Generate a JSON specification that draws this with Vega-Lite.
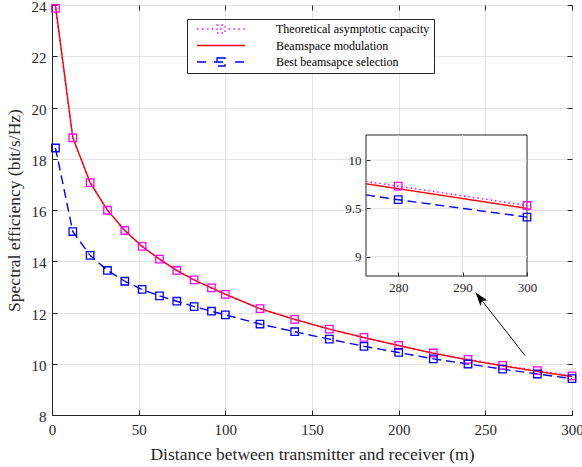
{
  "$schema": "https://vega.github.io/schema/vega-lite/v6.json",
  "width": 520,
  "height": 410,
  "autosize": "none",
  "padding": {"left": 52, "top": 5, "right": 10, "bottom": 52},
  "background": "white",
  "config": {
    "font": "Liberation Serif",
    "view": {"stroke": "#262626", "strokeWidth": 1},
    "axis": {
      "labelFont": "Liberation Serif",
      "titleFont": "Liberation Serif",
      "labelFontSize": 15,
      "titleFontSize": 17.5,
      "titleFontWeight": "normal",
      "labelColor": "#262626",
      "titleColor": "#262626",
      "domainColor": "#262626",
      "tickColor": "#262626",
      "gridColor": "#e3e3e3",
      "labelFlush": false,
      "labelOverlap": false,
      "tickSize": -5,
      "labelPadding": 12
    }
  },
  "datasets": {
    "main": [
      {"x": 2, "series": "Theoretical asymptotic capacity", "value": 23.87},
      {"x": 12, "series": "Theoretical asymptotic capacity", "value": 18.82},
      {"x": 22, "series": "Theoretical asymptotic capacity", "value": 17.07},
      {"x": 32, "series": "Theoretical asymptotic capacity", "value": 15.99},
      {"x": 42, "series": "Theoretical asymptotic capacity", "value": 15.2},
      {"x": 52, "series": "Theoretical asymptotic capacity", "value": 14.58},
      {"x": 62, "series": "Theoretical asymptotic capacity", "value": 14.08},
      {"x": 72, "series": "Theoretical asymptotic capacity", "value": 13.64},
      {"x": 82, "series": "Theoretical asymptotic capacity", "value": 13.27},
      {"x": 92, "series": "Theoretical asymptotic capacity", "value": 12.96},
      {"x": 100, "series": "Theoretical asymptotic capacity", "value": 12.71},
      {"x": 120, "series": "Theoretical asymptotic capacity", "value": 12.15},
      {"x": 140, "series": "Theoretical asymptotic capacity", "value": 11.73},
      {"x": 160, "series": "Theoretical asymptotic capacity", "value": 11.35},
      {"x": 180, "series": "Theoretical asymptotic capacity", "value": 11.03},
      {"x": 200, "series": "Theoretical asymptotic capacity", "value": 10.72},
      {"x": 220, "series": "Theoretical asymptotic capacity", "value": 10.42},
      {"x": 240, "series": "Theoretical asymptotic capacity", "value": 10.17},
      {"x": 260, "series": "Theoretical asymptotic capacity", "value": 9.94},
      {"x": 280, "series": "Theoretical asymptotic capacity", "value": 9.73},
      {"x": 300, "series": "Theoretical asymptotic capacity", "value": 9.53},
      {"x": 2, "series": "Beamspace modulation", "value": 24.0},
      {"x": 12, "series": "Beamspace modulation", "value": 18.82},
      {"x": 22, "series": "Beamspace modulation", "value": 17.07},
      {"x": 32, "series": "Beamspace modulation", "value": 15.99},
      {"x": 42, "series": "Beamspace modulation", "value": 15.2},
      {"x": 52, "series": "Beamspace modulation", "value": 14.58},
      {"x": 62, "series": "Beamspace modulation", "value": 14.08},
      {"x": 72, "series": "Beamspace modulation", "value": 13.64},
      {"x": 82, "series": "Beamspace modulation", "value": 13.27},
      {"x": 92, "series": "Beamspace modulation", "value": 12.96},
      {"x": 100, "series": "Beamspace modulation", "value": 12.71},
      {"x": 120, "series": "Beamspace modulation", "value": 12.15},
      {"x": 140, "series": "Beamspace modulation", "value": 11.73},
      {"x": 160, "series": "Beamspace modulation", "value": 11.35},
      {"x": 180, "series": "Beamspace modulation", "value": 11.02},
      {"x": 200, "series": "Beamspace modulation", "value": 10.71},
      {"x": 220, "series": "Beamspace modulation", "value": 10.41},
      {"x": 240, "series": "Beamspace modulation", "value": 10.15},
      {"x": 260, "series": "Beamspace modulation", "value": 9.92},
      {"x": 280, "series": "Beamspace modulation", "value": 9.7},
      {"x": 300, "series": "Beamspace modulation", "value": 9.5},
      {"x": 2, "series": "Best beamsapce selection", "value": 18.42},
      {"x": 12, "series": "Best beamsapce selection", "value": 15.16},
      {"x": 22, "series": "Best beamsapce selection", "value": 14.23},
      {"x": 32, "series": "Best beamsapce selection", "value": 13.64},
      {"x": 42, "series": "Best beamsapce selection", "value": 13.22},
      {"x": 52, "series": "Best beamsapce selection", "value": 12.9},
      {"x": 62, "series": "Best beamsapce selection", "value": 12.65},
      {"x": 72, "series": "Best beamsapce selection", "value": 12.44},
      {"x": 82, "series": "Best beamsapce selection", "value": 12.23},
      {"x": 92, "series": "Best beamsapce selection", "value": 12.05},
      {"x": 100, "series": "Best beamsapce selection", "value": 11.91},
      {"x": 120, "series": "Best beamsapce selection", "value": 11.55},
      {"x": 140, "series": "Best beamsapce selection", "value": 11.25},
      {"x": 160, "series": "Best beamsapce selection", "value": 10.96},
      {"x": 180, "series": "Best beamsapce selection", "value": 10.68},
      {"x": 200, "series": "Best beamsapce selection", "value": 10.44},
      {"x": 220, "series": "Best beamsapce selection", "value": 10.19},
      {"x": 240, "series": "Best beamsapce selection", "value": 9.99},
      {"x": 260, "series": "Best beamsapce selection", "value": 9.79},
      {"x": 280, "series": "Best beamsapce selection", "value": 9.6},
      {"x": 300, "series": "Best beamsapce selection", "value": 9.42}
    ],
    "inset": [
      {"x": 275, "series": "Theoretical asymptotic capacity", "value": 9.78},
      {"x": 280, "series": "Theoretical asymptotic capacity", "value": 9.73},
      {"x": 300, "series": "Theoretical asymptotic capacity", "value": 9.53},
      {"x": 275, "series": "Beamspace modulation", "value": 9.755},
      {"x": 280, "series": "Beamspace modulation", "value": 9.704},
      {"x": 300, "series": "Beamspace modulation", "value": 9.5},
      {"x": 275, "series": "Best beamsapce selection", "value": 9.64},
      {"x": 280, "series": "Best beamsapce selection", "value": 9.59},
      {"x": 300, "series": "Best beamsapce selection", "value": 9.41}
    ],
    "arrow": [
      {"x1": 272.9, "y1": 10.32, "x2": 244.4, "y2": 12.78}
    ],
    "insetbox": [
      {"x1": 275, "x2": 300, "y1": 8.8, "y2": 10.26}
    ],
    "insetgridx": [{"g": 280}, {"g": 290}],
    "insetgridy": [{"g": 9}, {"g": 9.5}, {"g": 10}]
  },
  "layer": [
    {
      "layer": [
        {
          "data": {"name": "main"},
          "mark": {"type": "line", "strokeWidth": 1.4},
          "encoding": {
            "x": {
              "field": "x", "type": "quantitative",
              "scale": {"domain": [0, 300], "nice": false, "zero": false},
              "axis": {"orient": "bottom", "values": [0, 50, 100, 150, 200, 250, 300], "grid": true, "title": "Distance between transmitter and receiver (m)", "titlePadding": 8, "labelFont": "Liberation Serif", "titleFont": "Liberation Serif"}
            },
            "y": {
              "field": "value", "type": "quantitative",
              "scale": {"domain": [8, 24], "nice": false, "zero": false},
              "axis": {"orient": "left", "values": [8, 10, 12, 14, 16, 18, 20, 22, 24], "grid": true, "title": "Spectral efficiency (bit/s/Hz)", "labelPadding": 11, "labelOffset": 1.5, "titlePadding": 8, "labelFont": "Liberation Serif", "titleFont": "Liberation Serif"}
            },
            "color": {
              "field": "series", "type": "nominal",
              "scale": {
                "domain": ["Theoretical asymptotic capacity", "Beamspace modulation", "Best beamsapce selection"],
                "range": ["#ff00ff", "#ff0000", "#0000ff"]
              },
              "legend": {
                "title": null,
                "orient": "none",
                "legendX": 135,
                "legendY": 14,
                "fillColor": "white",
                "strokeColor": "#262626",
                "padding": 4,
                "labelFont": "Liberation Serif",
                "labelFontSize": 12,
                "labelColor": "black",
                "labelLimit": 400,
                "symbolSize": 16,
                "symbolStrokeWidth": 1.3,
                "symbolOffset": 24,
                "labelOffset": 49,
                "rowPadding": 3.5,
                "encode": {
                  "symbols": {
                    "update": {
                      "shape": {"signal": "datum.value === 'Beamspace modulation' ? 'M-12,0H12' : (datum.value === 'Best beamsapce selection' ? 'M-12,0H-7M-3.5,0H3.5M7,0H12M-2,-2H2V2H-2Z' : 'M-12,0h0.8M-9.5,0h0.8M-7,0h0.8M-4.5,0h0.8M-0.4,0h0.8M3.7,0h0.8M6.2,0h0.8M8.7,0h0.8M11.2,0h0.8M-2,-2H2V2H-2Z')"},
                      "fill": {"value": "transparent"}
                    }
                  }
                }
              }
            },
            "strokeDash": {
              "field": "series", "type": "nominal",
              "scale": {
                "domain": ["Theoretical asymptotic capacity", "Beamspace modulation", "Best beamsapce selection"],
                "range": [[1.5, 3], [1, 0], [9, 5]]
              },
              "legend": null
            }
          }
        },
        {
          "data": {"name": "main"},
          "transform": [{"filter": "datum.series !== 'Beamspace modulation'"}],
          "mark": {"type": "point", "shape": "square", "filled": false, "size": 56, "strokeWidth": 1.3, "opacity": 1},
          "encoding": {
            "x": {"field": "x", "type": "quantitative", "axis": {"orient": "top", "values": [0, 50, 100, 150, 200, 250, 300], "labels": false, "grid": false, "domain": false, "title": null}},
            "y": {"field": "value", "type": "quantitative", "axis": {"orient": "right", "values": [8, 10, 12, 14, 16, 18, 20, 22, 24], "labels": false, "grid": false, "domain": false, "title": null}},
            "color": {"field": "series", "type": "nominal"}
          }
        },
        {
          "data": {"name": "arrow"},
          "mark": {"type": "rule", "color": "black", "strokeWidth": 1},
          "encoding": {
            "x": {"field": "x1", "type": "quantitative", "axis": null},
            "y": {"field": "y1", "type": "quantitative", "axis": null},
            "x2": {"field": "x2"},
            "y2": {"field": "y2"}
          }
        },
        {
          "data": {"name": "arrow"},
          "mark": {"type": "point", "shape": "M0,0L-0.5,1.5L0,1.15L0.5,1.5Z", "angle": 322, "filled": true, "color": "black", "size": 324, "opacity": 1},
          "encoding": {
            "x": {"field": "x2", "type": "quantitative", "axis": null},
            "y": {"field": "y2", "type": "quantitative", "axis": null}
          }
        }
      ],
      "resolve": {"axis": {"x": "independent", "y": "independent"}}
    },
    {
      "layer": [
        {
          "data": {"name": "insetbox"},
          "mark": {"type": "rect", "fill": "white", "stroke": "#262626", "strokeWidth": 1},
          "encoding": {
            "x": {
              "field": "x1", "type": "quantitative",
              "scale": {"domain": [275, 300], "range": [314, 475], "nice": false, "zero": false},
              "axis": {"orient": "bottom", "offset": -139, "values": [280, 290, 300], "grid": false, "domain": false, "title": null, "labelFontSize": 13, "labelFont": "Liberation Serif", "tickSize": -4, "labelPadding": 9, "zindex": 1}
            },
            "x2": {"field": "x2"},
            "y": {
              "field": "y1", "type": "quantitative",
              "scale": {"domain": [8.8, 10.26], "range": [271, 130], "nice": false, "zero": false},
              "axis": {"orient": "left", "offset": -314, "values": [9, 9.5, 10], "format": "~g", "grid": false, "domain": false, "title": null, "labelFontSize": 13, "labelFont": "Liberation Serif", "tickSize": -4, "labelPadding": 9, "zindex": 1}
            },
            "y2": {"field": "y2"}
          }
        },
        {
          "data": {"name": "insetgridx"},
          "mark": {"type": "rule", "color": "#e3e3e3", "strokeWidth": 1},
          "encoding": {
            "x": {"field": "g", "type": "quantitative"},
            "y": {"datum": 8.8},
            "y2": {"datum": 10.26}
          }
        },
        {
          "data": {"name": "insetgridy"},
          "mark": {"type": "rule", "color": "#e3e3e3", "strokeWidth": 1},
          "encoding": {
            "y": {"field": "g", "type": "quantitative"},
            "x": {"datum": 275},
            "x2": {"datum": 300}
          }
        },
        {
          "data": {"name": "inset"},
          "mark": {"type": "line", "strokeWidth": 1.4},
          "encoding": {
            "x": {"field": "x", "type": "quantitative"},
            "y": {"field": "value", "type": "quantitative"},
            "color": {"field": "series", "type": "nominal"},
            "strokeDash": {"field": "series", "type": "nominal"}
          }
        },
        {
          "data": {"name": "inset"},
          "transform": [{"filter": "datum.series !== 'Beamspace modulation' && datum.x >= 280"}],
          "mark": {"type": "point", "shape": "square", "filled": false, "size": 56, "strokeWidth": 1.3, "opacity": 1},
          "encoding": {
            "x": {"field": "x", "type": "quantitative"},
            "y": {"field": "value", "type": "quantitative"},
            "color": {"field": "series", "type": "nominal"}
          }
        }
      ]
    }
  ],
  "resolve": {"scale": {"x": "independent", "y": "independent"}}
}
